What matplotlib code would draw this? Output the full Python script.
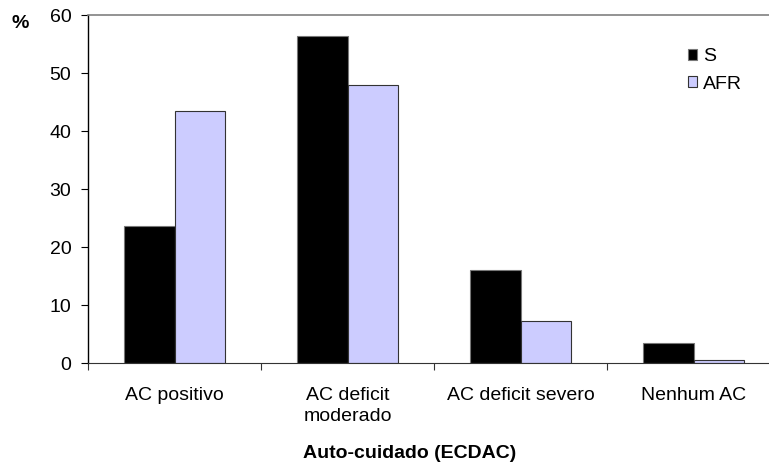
import matplotlib.pyplot as plt
import numpy as np

plt.rcParams['font.family'] = ['Liberation Sans', 'DejaVu Sans']

categorias = ['AC positivo', 'AC deficit\nmoderado', 'AC deficit severo', 'Nenhum AC']
s_vals = [23.7, 56.4, 16.1, 3.5]
afr_vals = [43.5, 48.0, 7.3, 0.5]

fig = plt.figure(figsize=(7.69, 4.74), dpi=100)
# eixo estende-se um pouco para lá da margem direita, como no original
ax = fig.add_axes([88/769, 1 - 363/474, 692/769, 348/474])

x = np.arange(len(categorias))
w = 0.29
ax.bar(x - w/2, s_vals, w, color='black', edgecolor='#777777', linewidth=0.8, label='S')
ax.bar(x + w/2, afr_vals, w, color='#CCCCFF', edgecolor='#333333', linewidth=0.8, label='AFR')

ax.set_xlim(-0.5, 3.5)
ax.set_ylim(0, 60)
ax.set_yticks(range(0, 61, 10))
ax.set_xticks(np.arange(-0.5, 3.6, 1))
ax.set_xticklabels([])
ax.set_xticks(x, minor=True)
ax.set_xticklabels(categorias, minor=True, fontsize=14, linespacing=1.3)
ax.tick_params(axis='x', which='minor', length=0, pad=17)
ax.tick_params(axis='x', which='major', length=5, direction='out', color='#333333')
ax.tick_params(axis='y', length=5, labelsize=14, pad=7)

ax.spines['right'].set_visible(False)
ax.spines['top'].set_color('#808080')
ax.spines['top'].set_linewidth(1.2)
ax.spines['left'].set_linewidth(1.0)
ax.spines['bottom'].set_color('#333333')

ax.set_xlabel('Auto-cuidado (ECDAC)', fontweight='bold', fontsize=14)
ax.xaxis.set_label_coords((410 - 88) / 692, (363 - 453) / 348)
ax.xaxis.label.set_va('center')
fig.text(20/769, 1 - 24/474, '%', fontweight='bold', fontsize=14, ha='center', va='center')

ax.legend(loc='upper left', bbox_to_anchor=(582/692, 0.955), frameon=False, fontsize=14,
          handlelength=0.5, handleheight=0.5, handletextpad=0.3, labelspacing=0.55)

plt.savefig('out.png', dpi=100)
